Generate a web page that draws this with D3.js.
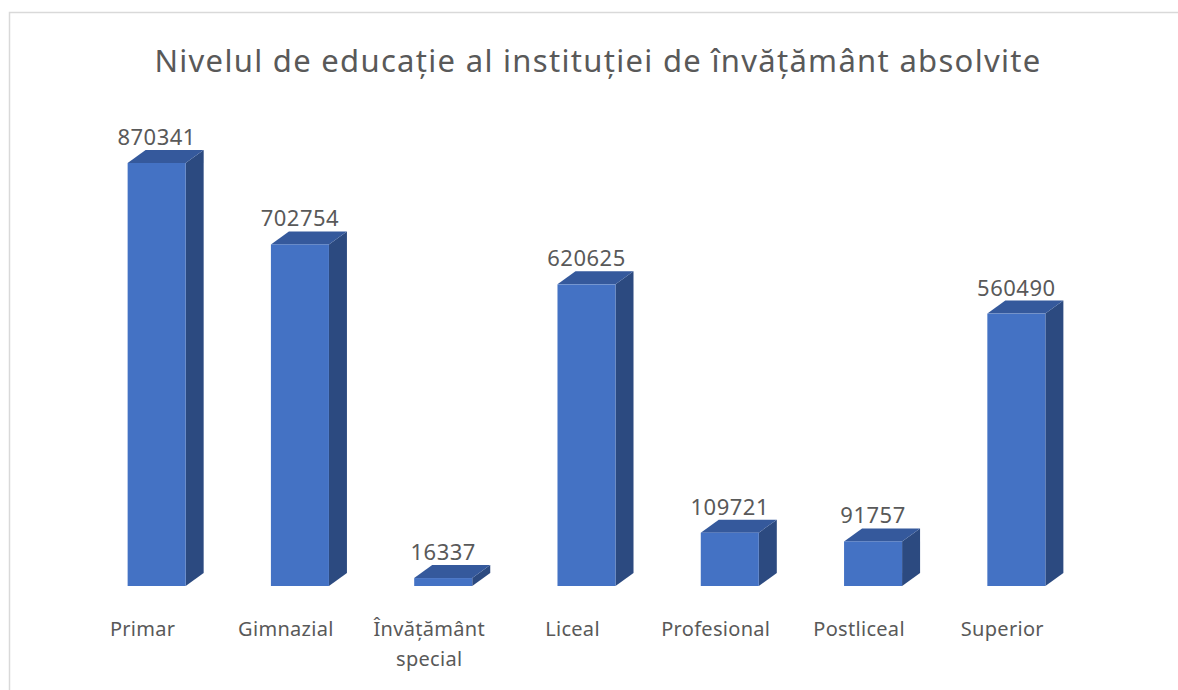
<!DOCTYPE html>
<html>
<head>
<meta charset="utf-8">
<script src="https://cdn.jsdelivr.net/npm/d3@7"></script>
<style>
body{margin:0;background:#fff;}
text{font-family:"Noto Sans",sans-serif;fill:#595959;}
</style>
</head>
<body>
<div id="grafico"></div>
<script>
// datos
var categorias=["Primar","Gimnazial","Învățământ special","Liceal","Profesional","Postliceal","Superior"]
var valores=[870341,702754,16337,620625,109721,91757,560490]
var titulo="Nivelul de educație al instituției de învățământ absolvite"

var ancho=1178, alto=690
var svg=d3.select("#grafico").append("svg")
	.attr("width",ancho).attr("height",alto)

//marco
svg.append("rect").attr("x",9.5).attr("y",12.5).attr("width",1200).attr("height",700)
	.attr("fill","none").attr("stroke","#d9d9d9").attr("stroke-width",1.5)

svg.append("text").attr("x",598).attr("y",72).attr("text-anchor","middle")
	.style("font-size","31px").style("letter-spacing","1.3px").text(titulo)

var base=586
var escalaX=d3.scaleBand().domain(categorias).range([85,1088]).paddingInner(0.595).paddingOuter(0.2975)
var escalaY=d3.scaleLinear().domain([0,870341]).range([base,163])

var dx=18, dy=-13
var w=escalaX.bandwidth()

var barras=svg.selectAll(".barra").data(categorias).enter().append("g").attr("class","barra")
barras.each(function(c,i){
	var g=d3.select(this)
	var x0=escalaX(c), x1=x0+w, y=escalaY(valores[i])
	//cara lateral
	g.append("path").attr("d","M"+x1+","+y+"L"+(x1+dx)+","+(y+dy)+"L"+(x1+dx)+","+(base+dy)+"L"+x1+","+base+"Z")
		.attr("fill","#2c4a80")
	//cara superior
	g.append("path").attr("d","M"+x0+","+y+"L"+x1+","+y+"L"+(x1+dx)+","+(y+dy)+"L"+(x0+dx)+","+(y+dy)+"Z")
		.attr("fill","#35599c")
	//frente
	g.append("rect").attr("x",x0).attr("y",y).attr("width",w).attr("height",base-y)
		.attr("fill","#4472c4")
	//etiqueta
	g.append("text").attr("x",x0+w/2).attr("y",y+dy-5).attr("text-anchor","middle")
		.style("font-size","22px").style("letter-spacing","0.5px").text(valores[i])
})

//etiquetas eje
var ejeX=svg.append("g").attr("class","ejex")
categorias.forEach(function(c){
	var t=ejeX.append("text").attr("x",escalaX(c)+w/2-14).attr("y",636).attr("text-anchor","middle")
		.style("font-size","20px").style("letter-spacing","0.3px")
	if(c=="Învățământ special"){
		t.append("tspan").attr("x",escalaX(c)+w/2-14).attr("dy",0).text("Învățământ")
		t.append("tspan").attr("x",escalaX(c)+w/2-14).attr("dy",30).text("special")
	}else t.text(c)
})
</script>
</body>
</html>
